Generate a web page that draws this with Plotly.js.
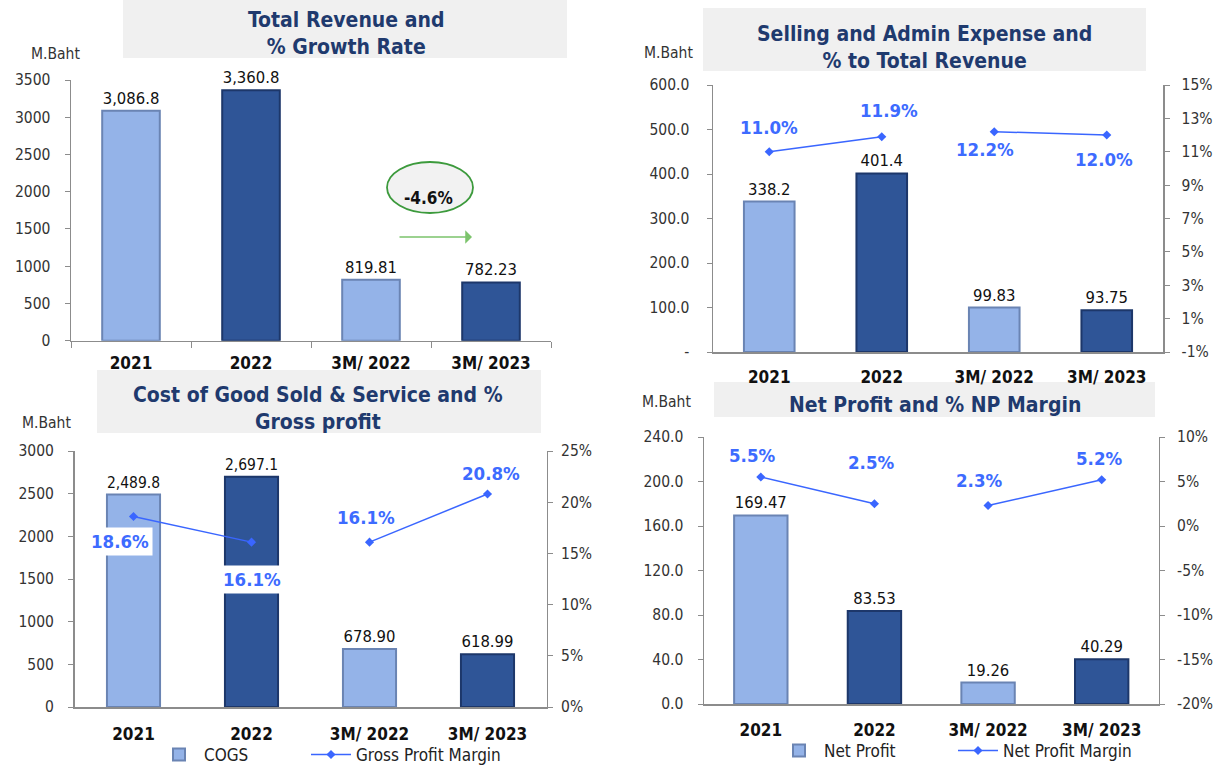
<!DOCTYPE html>
<html>
<head>
<meta charset="utf-8">
<script src="https://cdn.plot.ly/plotly-3.0.1.min.js"></script>
<style>html,body{margin:0;padding:0;background:#fff}#chart{width:1224px;height:765px}</style>
</head>
<body>
<div id="chart"></div>
<script>
// ---------- data ----------
const categories = ['2021', '2022', '3M/ 2022', '3M/ 2023'];

const revenue = [3086.8, 3360.8, 819.81, 782.23];
const revenueLabels = ['3,086.8', '3,360.8', '819.81', '782.23'];

const sgaExpense = [338.2, 401.4, 99.83, 93.75];
const sgaLabels = ['338.2', '401.4', '99.83', '93.75'];
const sgaPct = [11.0, 11.9, 12.2, 12.0];

const cogs = [2489.8, 2697.1, 678.90, 618.99];
const cogsLabels = ['2,489.8', '2,697.1', '678.90', '618.99'];
const grossMargin = [18.6, 16.1, 16.1, 20.8];

const netProfit = [169.47, 83.53, 19.26, 40.29];
const netProfitLabels = ['169.47', '83.53', '19.26', '40.29'];
const netMargin = [5.5, 2.5, 2.3, 5.2];

const revTicks = [0, 500, 1000, 1500, 2000, 2500, 3000, 3500];
const sgaTicks = [0, 100, 200, 300, 400, 500, 600];
const sgaPctTicks = [-1, 1, 3, 5, 7, 9, 11, 13, 15];
const cogsTicks = [0, 500, 1000, 1500, 2000, 2500, 3000];
const gpmTicks = [0, 5, 10, 15, 20, 25];
const npTicks = [0, 40, 80, 120, 160, 200, 240];
const npmTicks = [-20, -15, -10, -5, 0, 5, 10];

// ---------- styles ----------
const FONT = "Tahoma, 'DejaVu Sans Condensed', 'DejaVu Sans', sans-serif";
const LIGHT = '#94b3e8', DARK = '#2f5597';
const LIGHT_EDGE = '#6a84b3', DARK_EDGE = '#1d376a';
const barColors = [LIGHT, DARK, LIGHT, DARK];
const barEdges = [LIGHT_EDGE, DARK_EDGE, LIGHT_EDGE, DARK_EDGE];
const LINE = '#3a66ff', PCT = '#3d6bff', TITLE = '#1f3a6e';
const AXIS = '#8c8c8c';

function barTrace(y, labels, xa, ya, name, legend, showlegend, width) {
  return {
    type: 'bar', x: categories, y: y, xaxis: xa, yaxis: ya, name: name,
    width: width,
    marker: {color: barColors, line: {color: barEdges, width: 2}},
    text: labels, textposition: 'outside', cliponaxis: false,
    textfont: {family: FONT, size: 16.5, color: '#111'},
    hoverinfo: 'x+y', showlegend: showlegend, legend: legend
  };
}
function lineTraces(vals, xa, ya, name, legend, showlegend) {
  const base = {
    type: 'scatter', mode: 'lines+markers', xaxis: xa, yaxis: ya, name: name,
    line: {color: LINE, width: 1.5}, marker: {symbol: 'diamond', size: 7, color: LINE},
    cliponaxis: false, legend: legend
  };
  return [
    Object.assign({}, base, {x: categories.slice(0, 2), y: vals.slice(0, 2), showlegend: showlegend}),
    Object.assign({}, base, {x: categories.slice(2), y: vals.slice(2), showlegend: false})
  ];
}

const traces = [
  barTrace(revenue, revenueLabels, 'x', 'y', 'Total Revenue', 'legend', false, 0.48),
  barTrace(sgaExpense, sgaLabels, 'x2', 'y2', 'SG&A', 'legend', false, 0.45),
  ...lineTraces(sgaPct, 'x2', 'y3', '% to Total Revenue', 'legend', false),
  barTrace(cogs, cogsLabels, 'x3', 'y4', 'COGS', 'legend', true, 0.45),
  ...lineTraces(grossMargin, 'x3', 'y5', 'Gross Profit Margin', 'legend3', true),
  barTrace(netProfit, netProfitLabels, 'x4', 'y6', 'Net Profit', 'legend2', true, 0.47),
  ...lineTraces(netMargin, 'x4', 'y7', 'Net Profit Margin', 'legend4', true)
];

const W = 1224, H = 765;
const px = v => v / W, py = v => 1 - v / H;

const tickFont = {family: FONT, size: 15.5, color: '#333'};
const xTickFont = {family: FONT, size: 17, color: '#111', weight: 'bold'};

function xAxis(d0, d1, anchor, ticks, standoff) {
  return {
    domain: [px(d0), px(d1)], anchor: anchor, type: 'category', range: [-0.5, 3.5], autorange: false,
    showline: true, linecolor: AXIS, linewidth: 1.5, showgrid: false, zeroline: false,
    ticks: ticks ? 'outside' : '', tickson: 'boundaries', ticklen: 6, tickcolor: AXIS,
    tickfont: xTickFont, ticklabelstandoff: standoff, fixedrange: true
  };
}
function yAxis(top, bottom, anchor, range, vals, text, standoff, extra) {
  return Object.assign({
    domain: [py(bottom), py(top)], anchor: anchor, range: range, autorange: false,
    tickmode: 'array', tickvals: vals, ticktext: text,
    showline: true, linecolor: AXIS, linewidth: 1.5, showgrid: false, zeroline: false,
    ticks: 'outside', ticklen: 5, tickcolor: AXIS, tickfont: tickFont,
    ticklabelstandoff: standoff, fixedrange: true
  }, extra || {});
}

const pctText = v => v.toFixed(0) + '%';

// percentage labels (x given as category index)
function pctAnnotations(vals, xa, ya, shifts, boxed) {
  return vals.map((v, i) => ({
    xref: xa, yref: ya, x: i, y: v, text: '<b>' + v.toFixed(1) + '%</b>',
    showarrow: false, xshift: shifts[i][0], yshift: -shifts[i][1],
    font: {family: FONT, size: 18.5, color: PCT},
    bgcolor: boxed && boxed[i] ? '#ffffff' : 'rgba(0,0,0,0)', borderpad: 3
  }));
}

function titleBox(x0, y0, x1, y1) {
  return {type: 'rect', xref: 'paper', yref: 'paper', x0: px(x0), x1: px(x1), y0: py(y1), y1: py(y0),
          fillcolor: '#f0f0f0', line: {width: 0}, layer: 'below'};
}
function titleAnn(x, y, text) {
  return {xref: 'paper', yref: 'paper', x: px(x), y: py(y), text: '<b>' + text + '</b>', showarrow: false,
          font: {family: FONT, size: 21, color: TITLE}, align: 'center', xanchor: 'center', yanchor: 'middle'};
}
function unitAnn(x, y) {
  return {xref: 'paper', yref: 'paper', x: px(x), y: py(y), text: 'M.Baht', showarrow: false,
          font: {family: FONT, size: 15.5, color: '#333'}, xanchor: 'center', yanchor: 'middle'};
}
function legendAt(x, y) {
  return {orientation: 'h', x: px(x), y: py(y), xanchor: 'left', yanchor: 'middle',
          font: {family: FONT, size: 17, color: '#222'}, bgcolor: 'rgba(0,0,0,0)', itemwidth: 40};
}

const growth = ((revenue[3] / revenue[2] - 1) * 100).toFixed(1) + '%';

const annotations = [
  titleAnn(346, 34, 'Total Revenue and<br>% Growth Rate'),
  titleAnn(924, 47, 'Selling and Admin Expense and<br>% to Total Revenue'),
  titleAnn(318, 408, 'Cost of Good Sold &amp; Service and %<br>Gross profit'),
  titleAnn(935, 405, 'Net Profit and % NP Margin'),
  unitAnn(55, 54), unitAnn(669, 53), unitAnn(46, 423), unitAnn(666, 402),
  {xref: 'paper', yref: 'paper', x: px(429), y: py(186), text: '<b>' + growth + '</b>', showarrow: false,
   font: {family: FONT, size: 17, color: '#111'}},
  {xref: 'paper', yref: 'paper', x: px(472), y: py(237), ax: px(398), ay: py(237), axref: 'paper', ayref: 'paper',
   text: '', showarrow: true, arrowhead: 1, arrowsize: 1.4, arrowwidth: 1.6, arrowcolor: '#7cc46c'},
  ...pctAnnotations(sgaPct, 'x2', 'y3', [[0, -24], [7, -26], [-9, 18], [-3, 24]]),
  ...pctAnnotations(grossMargin, 'x3', 'y5', [[-14, 25], [0, 37], [-4, -25], [3, -21]], [true, true, false, false]),
  ...pctAnnotations(netMargin, 'x4', 'y7', [[-9, -22], [-3, -41], [-9, -25], [-3, -21]])
];

const shapes = [
  titleBox(123, 0, 567, 58),
  titleBox(703, 8, 1146, 71),
  titleBox(97, 370, 541, 433),
  titleBox(714, 382, 1155, 417),
  {type: 'circle', xref: 'paper', yref: 'paper', x0: px(387), x1: px(473), y0: py(213), y1: py(162),
   fillcolor: '#f2f2f2', line: {color: '#3c9a3c', width: 1.8}}
];

const layout = {
  width: W, height: H, margin: {l: 0, r: 0, t: 0, b: 0, autoexpand: false},
  paper_bgcolor: '#fff', plot_bgcolor: 'rgba(0,0,0,0)',
  font: {family: FONT, color: '#222'},
  xaxis: xAxis(71, 551, 'y', true, 6),
  yaxis: yAxis(80, 340.7, 'x', [0, 3500], revTicks, revTicks.map(String), 11),
  xaxis2: xAxis(713, 1163, 'y2', false, 9),
  yaxis2: yAxis(85, 352, 'x2', [0, 600], sgaTicks, sgaTicks.map(v => v === 0 ? '-' : v.toFixed(1)), 14),
  yaxis3: yAxis(85, 352, 'x2', [-1, 15], sgaPctTicks, sgaPctTicks.map(pctText), 9, {overlaying: 'y2', side: 'right'}),
  xaxis3: xAxis(74.5, 546.5, 'y4', false, 11),
  yaxis4: yAxis(451, 707, 'x3', [0, 3000], cogsTicks, cogsTicks.map(String), 11),
  yaxis5: yAxis(451, 707, 'x3', [0, 25], gpmTicks, gpmTicks.map(pctText), 5, {overlaying: 'y4', side: 'right'}),
  xaxis4: xAxis(704, 1158.5, 'y6', false, 10),
  yaxis6: yAxis(437, 704, 'x4', [0, 240], npTicks, npTicks.map(v => v.toFixed(1)), 11),
  yaxis7: yAxis(437, 704, 'x4', [-20, 10], npmTicks, npmTicks.map(pctText), 9, {overlaying: 'y6', side: 'right'}),
  showlegend: true,
  legend: legendAt(154, 755),
  legend3: legendAt(306, 755),
  legend2: legendAt(774, 751),
  legend4: legendAt(953, 751),
  annotations: annotations,
  shapes: shapes
};

Plotly.newPlot('chart', traces, layout, {displayModeBar: false, staticPlot: true});
</script>
</body>
</html>
